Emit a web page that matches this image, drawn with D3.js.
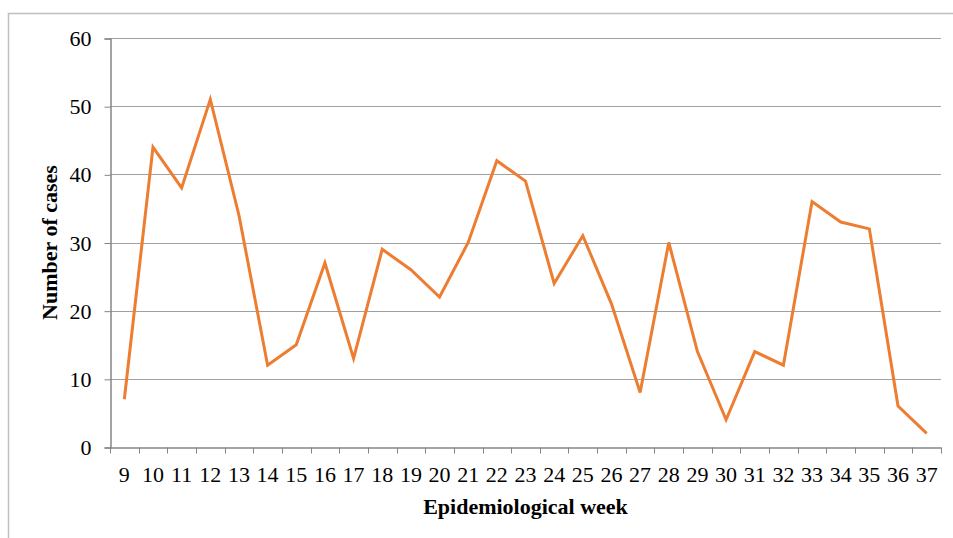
<!DOCTYPE html>
<html><head><meta charset="utf-8">
<script src="https://cdn.jsdelivr.net/npm/d3@7"></script>
<style>body{margin:0;background:#fff}svg{display:block}</style>
</head><body>
<script>
const weeks = ["9","10","11","12","13","14","15","16","17","18","19","20","21","22","23","24","25","26","27","28","29","30","31","32","33","34","35","36","37"];
const cases = [7,44,38,51,34,12,15,27,13,29,26,22,30,42,39,24,31,21,8,30,14,4,14,12,36,33,32,6,2];
const yTicks = [0,10,20,30,40,50,60];

const W = 953, H = 538;
const mLeft = 110, mRight = 941, mTop = 38, mBottom = 447;
const svg = d3.select("body").append("svg").attr("width", W).attr("height", H);

svg.append("rect").attr("x", 8.5).attr("y", 13.5).attr("width", 960).attr("height", 540)
  .attr("fill", "none").attr("stroke", "#BFBFBF").attr("stroke-width", 1.5);

const x = d3.scaleBand().domain(weeks).range([mLeft, mRight]).padding(0);
const y = d3.scaleLinear().domain([0, 60]).range([mBottom, mTop]);

// gridlines
svg.append("g").selectAll("line").data(yTicks.filter(d => d > 0)).join("line")
  .attr("x1", mLeft).attr("x2", mRight)
  .attr("y1", d => Math.round(y(d)) + 0.5).attr("y2", d => Math.round(y(d)) + 0.5)
  .attr("stroke", "#A0A0A0").attr("stroke-width", 1);

const font = "'Liberation Serif','Times New Roman',serif";
const fs = 22;

// y axis
const ya = svg.append("g").attr("transform", `translate(${mLeft + 0.5},0.5)`)
  .call(d3.axisLeft(y).tickValues(yTicks).tickSize(6).tickPadding(13));
ya.select(".domain").attr("stroke", "#868686").attr("stroke-width", 1.5);
ya.selectAll(".tick line").attr("stroke", "#868686");
ya.selectAll("text").attr("font-family", font).attr("font-size", fs).attr("fill", "#000");

// x axis
const xa = svg.append("g").attr("transform", `translate(0,${mBottom + 0.5})`)
  .call(d3.axisBottom(x).tickSize(0).tickPadding(19));
xa.select(".domain").attr("stroke", "#868686").attr("stroke-width", 1.5);
xa.selectAll("text").attr("font-family", font).attr("font-size", fs).attr("fill", "#000");
// boundary ticks
const bounds = weeks.map(w => x(w)).concat([mRight]);
xa.append("g").selectAll("line").data(bounds).join("line")
  .attr("x1", d => Math.round(d) + 0.5).attr("x2", d => Math.round(d) + 0.5)
  .attr("y1", 0).attr("y2", 6).attr("stroke", "#868686");

// line
const line = d3.line().x((d, i) => x(weeks[i]) + x.bandwidth() / 2).y(d => y(d));
svg.append("path").datum(cases).attr("d", line)
  .attr("fill", "none").attr("stroke", "#ED7D31").attr("stroke-width", 3)
  .attr("stroke-linejoin", "miter");

// titles
svg.append("text").attr("x", (mLeft + mRight) / 2).attr("y", 514)
  .attr("text-anchor", "middle").attr("font-family", font).attr("font-weight", "bold")
  .attr("font-size", fs).text("Epidemiological week");
svg.append("text").attr("transform", `translate(57,${(mTop + mBottom) / 2}) rotate(-90)`)
  .attr("text-anchor", "middle").attr("font-family", font).attr("font-weight", "bold")
  .attr("font-size", fs).text("Number of cases");
</script>
</body></html>
